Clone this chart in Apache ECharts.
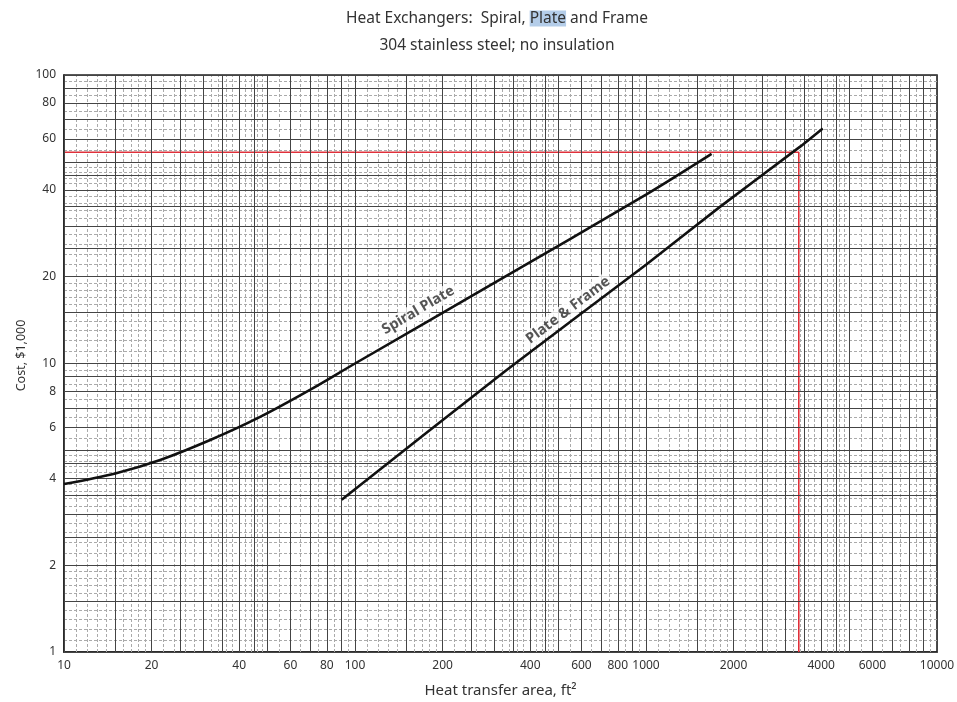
<!DOCTYPE html>
<html>
<head>
<meta charset="utf-8">
<title>Heat Exchangers: Spiral, Plate and Frame</title>
<script src="https://cdn.jsdelivr.net/npm/echarts@6/dist/echarts.min.js"></script>
<style>
html, body { margin: 0; padding: 0; background: #fff; }
#chart { width: 957px; height: 702px; }
</style>
</head>
<body>
<div id="chart"></div>
<script>
// values: area in ft2, cost in $1,000
var spiralArea = [10, 15, 21.4, 31.8, 47.2, 70, 100, 300, 1000, 1680];
var spiralCost = [3.82, 4.16, 4.63, 5.43, 6.53, 8.1, 10, 19, 38.5, 53.3];
var frameArea = [90, 332, 1000, 1795, 3350, 4050];
var frameCost = [3.37, 9.5, 22, 34.9, 56, 65.3];
// red read-off guide
var guideArea = [10, 3350, 3350];
var guideCost = [54, 54, 1];

var xTickLabels = [10, 20, 40, 60, 80, 100, 200, 400, 600, 800, 1000, 2000, 4000, 6000, 10000];
var yTickLabels = [1, 2, 4, 6, 8, 10, 20, 40, 60, 80, 100];

// rulings of the log paper inside one decade
var heavySteps = [1, 1.5, 2, 2.5, 3, 3.5, 4, 4.5, 5, 6, 7, 8, 9];
var lightSteps = [1.1, 1.2, 1.3, 1.4, 1.6, 1.7, 1.8, 1.9, 2.2, 2.4, 2.6, 2.8, 3.2, 3.4, 3.6, 3.8,
                  4.2, 4.4, 4.6, 4.8, 5.5, 6.5, 7.5, 8.5, 9.5];
var xDecades = [10, 100, 1000];
var yDecades = [1, 10];

var curveNames = ['Spiral Plate', 'Plate & Frame'];
var curveNameArea = [165, 540];
var curveNameCost = [15.3, 15.3];
var curveNameAngle = [30.5, 37];

var font = 'Noto Sans';

function pairs(xs, ys) {
    return xs.map(function (x, i) { return [x, ys[i]]; });
}

function rulings(decades, steps, top) {
    var out = [];
    decades.forEach(function (d) {
        steps.forEach(function (s) { out.push(+(d * s).toPrecision(6)); });
    });
    if (top) out.push(top);
    return out;
}

function lineItems(key, values, labels) {
    return values.map(function (v) {
        var item = {};
        item[key] = v;
        item.label = { show: !!labels && labels.indexOf(v) >= 0, formatter: String(v) };
        return item;
    });
}

function paperSeries(items, color, width, type) {
    return {
        type: 'line',
        data: [],
        silent: true,
        z: 1,
        markLine: {
            silent: true,
            animation: false,
            symbol: ['none', 'none'],
            lineStyle: { color: color, width: width, type: type },
            label: { position: 'start', distance: 8, color: '#333', fontSize: 12, fontFamily: font },
            emphasis: { disabled: true },
            data: items
        }
    };
}

var chart = echarts.init(document.getElementById('chart'));

chart.setOption({
    animation: false,
    title: {
        text: '{t|Heat Exchangers:  Spiral, }{hl|Plate}{t| and Frame}\n{t|304 stainless steel; no insulation}',
        left: 492,
        textAlign: 'center',
        top: 0,
        textStyle: {
            fontWeight: 'normal',
            rich: {
                t: { fontSize: 15.5, fontWeight: 'normal', color: '#333', lineHeight: 27, fontFamily: font },
                hl: { fontSize: 15.5, fontWeight: 'normal', color: '#333', lineHeight: 18, backgroundColor: '#b4cde9', fontFamily: font }
            }
        }
    },
    grid: {
        left: 64, right: 20, top: 75, bottom: 50,
        outerBoundsMode: 'none',
        containLabel: false,
        show: true, borderColor: '#222', borderWidth: 1.6
    },
    xAxis: {
        type: 'log',
        logBase: 10,
        min: 10,
        max: 10000,
        name: 'Heat transfer area, ft\u00b2',
        nameLocation: 'middle',
        nameGap: 31,
        nameTextStyle: { fontSize: 15, color: '#333', fontFamily: font },
        axisLine: { show: true, onZero: false, lineStyle: { color: '#222', width: 1.6 } },
        axisTick: { show: false },
        axisLabel: { show: false },
        splitLine: { show: false }
    },
    yAxis: {
        type: 'log',
        logBase: 10,
        min: 1,
        max: 100,
        name: 'Cost, $1,000',
        nameLocation: 'middle',
        nameGap: 36.5,
        nameTextStyle: { fontSize: 12.5, color: '#333', fontFamily: font, padding: [0, 0, 0, 16] },
        axisLine: { show: true, onZero: false, lineStyle: { color: '#222', width: 1.6 } },
        axisTick: { show: false },
        axisLabel: { show: false },
        splitLine: { show: false }
    },
    series: [
        paperSeries(lineItems('xAxis', rulings(xDecades, lightSteps)), '#aaa', 1, [3, 2]),
        paperSeries(lineItems('yAxis', rulings(yDecades, lightSteps)), '#aaa', 1, [3, 2]),
        paperSeries(lineItems('xAxis', rulings(xDecades, heavySteps, 10000), xTickLabels), '#444', 1, 'solid'),
        paperSeries(lineItems('yAxis', rulings(yDecades, heavySteps, 100), yTickLabels), '#444', 1, 'solid'),
        {
            type: 'line',
            data: pairs(guideArea, guideCost),
            showSymbol: false,
            silent: true,
            z: 4,
            lineStyle: { color: '#e0303a', width: 1.6 }
        },
        {
            name: 'Spiral Plate',
            type: 'line',
            data: pairs(spiralArea, spiralCost),
            smooth: 0.3,
            showSymbol: false,
            silent: true,
            z: 5,
            lineStyle: { color: '#111', width: 2.6 }
        },
        {
            name: 'Plate & Frame',
            type: 'line',
            data: pairs(frameArea, frameCost),
            smooth: 0.2,
            showSymbol: false,
            silent: true,
            z: 5,
            lineStyle: { color: '#111', width: 2.6 }
        },
        {
            type: 'scatter',
            silent: true,
            z: 6,
            symbolSize: 1,
            itemStyle: { color: 'transparent' },
            data: curveNames.map(function (n, i) {
                return {
                    value: [curveNameArea[i], curveNameCost[i]],
                    label: { formatter: n, rotate: curveNameAngle[i] }
                };
            }),
            label: {
                show: true,
                position: 'inside',
                color: '#2a2a2a',
                fontSize: 14.5,
                fontWeight: 'bold',
                fontFamily: font,
                backgroundColor: '#fff',
                padding: [1, 3]
            }
        }
    ]
});
</script>
</body>
</html>
